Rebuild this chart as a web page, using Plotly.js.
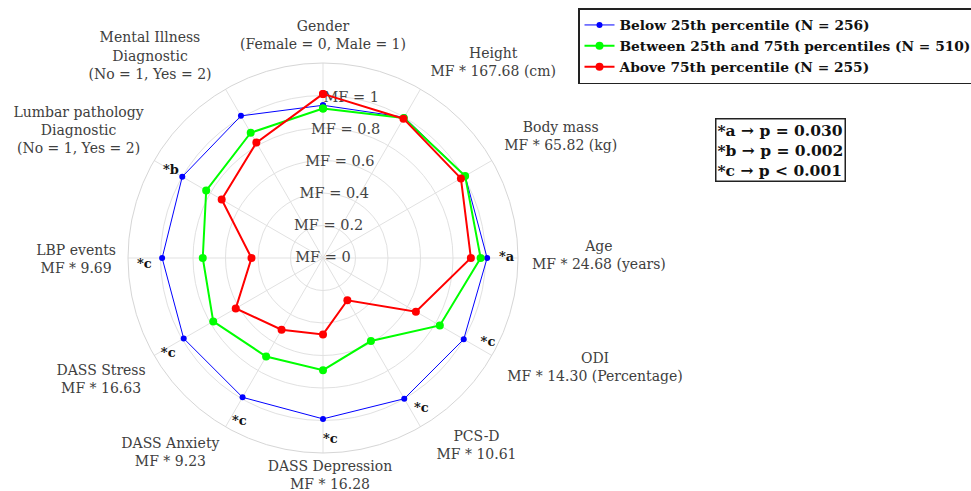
<!DOCTYPE html>
<html>
<head>
<meta charset="utf-8">
<script src="https://cdn.plot.ly/plotly-3.0.1.min.js"></script>
<style>html,body{margin:0;padding:0;background:#fff;}#chart{width:971px;height:491px;}</style>
</head>
<body>
<div id="chart"></div>
<script>
// ---- data ----
const categories = [
  "Gender<br>(Female = 0, Male = 1)",
  "Height<br>MF * 167.68 (cm)",
  "Body mass<br>MF * 65.82 (kg)",
  "Age<br>MF * 24.68 (years)",
  "ODI<br>MF * 14.30 (Percentage)",
  "PCS-D<br>MF * 10.61",
  "DASS Depression<br>MF * 16.28",
  "DASS Anxiety<br>MF * 9.23",
  "DASS Stress<br>MF * 16.63",
  "LBP events<br>MF * 9.69",
  "Lumbar pathology<br>Diagnostic<br>(No = 1, Yes = 2)",
  "Mental Illness<br>Diagnostic<br>(No = 1, Yes = 2)"
];
const seriesNames = [
  "Below 25th percentile (N = 256)",
  "Between 25th and 75th percentiles (N = 510)",
  "Above 75th percentile (N = 255)"
];
const below25 = [0.94, 1.00, 1.01, 1.01, 1.00, 1.00, 0.99, 0.99, 0.99, 0.99, 1.00, 1.01];
const between = [0.92, 0.995, 1.01, 0.97, 0.83, 0.59, 0.69, 0.70, 0.78, 0.74, 0.83, 0.89];
const above75 = [1.01, 0.99, 0.98, 0.91, 0.66, 0.30, 0.47, 0.51, 0.62, 0.44, 0.72, 0.82];
const radialTicks = [0, 0.2, 0.4, 0.6, 0.8, 1];
const radialTickText = ["MF = 0", "MF = 0.2", "MF = 0.4", "MF = 0.6", "MF = 0.8", "MF = 1"];
const starCategoryIdx = [3, 4, 5, 6, 7, 8, 9, 10];
const starLabels = ["*a", "*c", "*c", "*c", "*c", "*c", "*c", "*b"];
const pValueLines = ["*a → p = 0.030", "*b → p = 0.002", "*c → p &lt; 0.001"];

// ---- styles / positions ----
const colors = ["#0000ff", "#00ff00", "#ff0000"];
const lineWidths = [1, 2, 2];
const markerSizes = [6, 8, 8];
const starR = [1.13, 1.12, 1.12, 1.12, 1.12, 1.1, 1.1, 1.08];
const starPos = ["middle center", "top right", "top right", "middle right", "bottom right", "bottom center", "bottom center", "middle center"];
const labelAngle = 10;   // radial tick label direction, degrees clockwise from top
const labelGap = 12;     // px between outer circle and nearest corner of category labels
// small per-label pixel nudges (dx, dy) applied after anchoring
const labelNudge = [[0, 1], [4, 0], [2, -1], [2, -3], [5, -12], [10, -9], [7, -7], [0, -2], [2, 0], [0, 1], [0, 2], [-8, 3]];
const serif = "DejaVu Serif, Liberation Serif, serif";
const gridColor = "#e1e1e1";

const closeLoop = a => a.concat([a[0]]);
const series = [below25, between, above75];

const traces = [];
traces.push({
  type: "scatterpolar", subplot: "polar", mode: "text",
  r: radialTicks, theta: radialTicks.map(() => labelAngle),
  text: radialTickText, textposition: "middle center",
  textfont: {family: serif, size: 14.5, color: "#444"},
  showlegend: false, hoverinfo: "skip", cliponaxis: false
});
series.forEach((vals, i) => {
  traces.push({
    type: "scatterpolar", subplot: "polar2", mode: "lines+markers",
    name: seriesNames[i],
    r: closeLoop(vals), theta: closeLoop(categories),
    line: {color: colors[i], width: lineWidths[i]},
    marker: {color: colors[i], size: markerSizes[i]},
    cliponaxis: false
  });
});
traces.push({
  type: "scatterpolar", subplot: "polar2", mode: "text",
  r: starR, theta: starCategoryIdx.map(k => categories[k]),
  text: starLabels, textposition: starPos,
  textfont: {family: serif, size: 13, color: "#111", weight: "bold"},
  showlegend: false, hoverinfo: "skip", cliponaxis: false
});

const domain = {x: [128/971, 518/971], y: [38/491, 428/491]};
const layout = {
  width: 971, height: 491,
  margin: {l: 0, r: 0, t: 0, b: 0, autoexpand: false},
  paper_bgcolor: "#fff",
  showlegend: true,
  font: {family: serif},
  polar: {
    domain: domain, bgcolor: "#fff",
    angularaxis: {
      type: "linear", rotation: 90, direction: "clockwise", dtick: 30,
      showticklabels: false, ticks: "", gridcolor: gridColor, gridwidth: 1,
      showline: true, linecolor: "#d6d6d6", linewidth: 1
    },
    radialaxis: {
      range: [0, 1.2], tickvals: [0.2, 0.4, 0.6, 0.8, 1.0, 1.2],
      showticklabels: false, ticks: "", showline: false,
      gridcolor: gridColor, gridwidth: 1
    }
  },
  polar2: {
    domain: domain, bgcolor: "rgba(0,0,0,0)",
    angularaxis: {
      type: "category", rotation: 90, direction: "clockwise",
      showgrid: false, showline: false, ticks: "",
      tickfont: {family: serif, size: 14, color: "#404040"}
    },
    radialaxis: {
      range: [0, 1.2], showgrid: false, showline: false,
      showticklabels: false, ticks: ""
    }
  },
  legend: {
    x: 578/971, y: 1 - 8/491, xanchor: "left", yanchor: "top",
    bgcolor: "#fff", bordercolor: "#222", borderwidth: 1.5,
    font: {family: serif, size: 13.75, color: "#111", weight: "bold"},
    itemwidth: 30, tracegroupgap: 0
  },
  annotations: [{
    xref: "paper", yref: "paper", x: 715/971, y: 1 - 118/491,
    xanchor: "left", yanchor: "top", align: "left",
    text: pValueLines.join("<br>"),
    showarrow: false,
    font: {family: serif, size: 15.5, color: "#111", weight: "bold"},
    bordercolor: "#222", borderwidth: 1.5, borderpad: 1, bgcolor: "#fff"
  }]
};

// centre the lines of each category label and anchor its nearest corner just outside the circle
function placeLabels(gd) {
  const fl = gd._fullLayout;
  const sp = fl.polar2 && fl.polar2._subplot;
  let cx, cy, R;
  if (sp && isFinite(sp.cx) && isFinite(sp.radius)) {
    cx = sp.cx; cy = sp.cy; R = sp.radius;
  } else {
    cx = (domain.x[0] + domain.x[1]) / 2 * fl.width;
    cy = (1 - (domain.y[0] + domain.y[1]) / 2) * fl.height;
    R = (domain.x[1] - domain.x[0]) * fl.width / 2;
  }
  const svgBox = gd.querySelector(".main-svg").getBoundingClientRect();
  const n = categories.length;
  gd.querySelectorAll(".angularaxistick text").forEach((t, k) => {
    const lines = t.querySelectorAll("tspan.line");
    if (lines.length) {
      const bb = t.getBBox();
      const mid = bb.x + bb.width / 2;
      t.setAttribute("text-anchor", "middle");
      t.setAttribute("x", mid);
      lines.forEach(s => s.setAttribute("x", mid));
    }
    const d = t.__data__ || (t.parentNode && t.parentNode.__data__);
    const idx = d && isFinite(d.x) ? Math.round(d.x) : k;
    const ang = (90 - idx * 360 / n) * Math.PI / 180;
    const c = Math.cos(ang), s = Math.sin(ang), eps = 1e-6;
    const px = cx + (R + labelGap) * c, py = cy - (R + labelGap) * s;
    const r = t.getBoundingClientRect();
    const L = r.left - svgBox.left, T = r.top - svgBox.top;
    const ax = c > eps ? L : (c < -eps ? L + r.width : L + r.width / 2);
    const ay = s > eps ? T + r.height : (s < -eps ? T : T + r.height / 2);
    const nudge = labelNudge[idx] || [0, 0];
    const prev = t.getAttribute("transform") || "";
    t.setAttribute("transform", `translate(${px - ax + nudge[0]},${py - ay + nudge[1]}) ${prev}`);
  });
}
Plotly.newPlot("chart", traces, layout, {displayModeBar: false, staticPlot: true})
  .then(() => placeLabels(document.getElementById("chart")));
</script>
</body>
</html>
